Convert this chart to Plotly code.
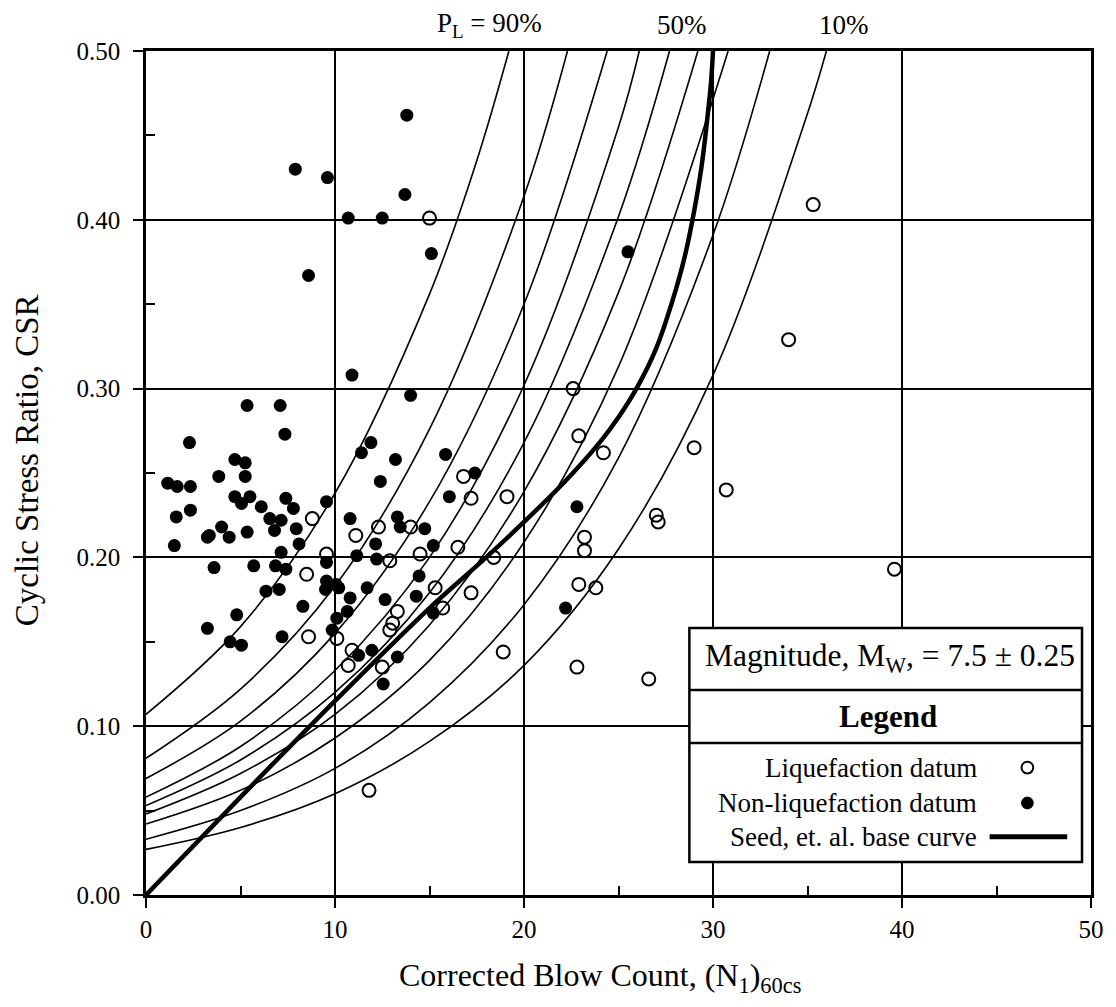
import plotly.graph_objects as go

# ---------------- data ----------------
# Probability curves (P_L) : blow count N and CSR
pl_labels = ["90%", "80%", "70%", "60%", "50%", "40%", "30%", "20%", "10%"]
pl_n = [
    [0, 5, 10, 15, 17.5, 19.2],
    [0, 5, 10, 15, 20, 22.3],
    [0, 5, 10, 15, 20, 24.4],
    [0, 5, 10, 15, 20, 25, 26.1],
    [0, 5, 10, 15, 20, 25, 27.7],
    [0, 5, 10, 15, 20, 25, 29.2],
    [0, 5, 10, 15, 20, 25, 30.8],
    [0, 5, 10, 15, 20, 25, 30, 33.0],
    [0, 5, 10, 15, 20, 25, 30, 35, 36.0],
]
pl_csr = [
    [0.107, 0.159, 0.238, 0.356, 0.435, 0.500],
    [0.081, 0.122, 0.183, 0.276, 0.414, 0.500],
    [0.069, 0.103, 0.155, 0.233, 0.350, 0.500],
    [0.058, 0.088, 0.133, 0.200, 0.302, 0.455, 0.500],
    [0.053, 0.080, 0.120, 0.179, 0.268, 0.402, 0.500],
    [0.048, 0.072, 0.107, 0.160, 0.239, 0.357, 0.500],
    [0.042, 0.062, 0.093, 0.139, 0.209, 0.313, 0.500],
    [0.033, 0.050, 0.075, 0.114, 0.172, 0.259, 0.391, 0.500],
    [0.027, 0.040, 0.060, 0.091, 0.136, 0.205, 0.308, 0.463, 0.500],
]

# Seed et al. base curve
seed_n = [0, 5, 10, 15, 18, 20, 22, 24, 25, 26, 27, 27.8, 28.5, 29.0, 29.4, 29.7,
          29.9, 30.0]
seed_csr = [0, 0.058, 0.115, 0.170, 0.200, 0.221, 0.243, 0.268, 0.283, 0.301,
            0.324, 0.350, 0.378, 0.405, 0.432, 0.460, 0.482, 0.500]

# Liquefaction data (open circles)
liq_n = [15.0, 35.3, 34.0, 22.6, 22.9, 24.2, 29.0, 30.7, 27.0, 27.1, 23.2, 23.2,
         22.9, 23.8, 39.6, 26.6, 22.8, 18.9, 16.8, 17.2, 19.1, 16.5, 18.4, 17.2,
         15.3, 15.7, 14.5, 14.0, 12.3, 11.1, 12.9, 13.3, 13.05, 12.9, 12.5, 10.7,
         10.9, 10.1, 8.6, 8.5, 9.55, 8.8, 11.8]
liq_csr = [0.401, 0.409, 0.329, 0.300, 0.272, 0.262, 0.265, 0.240, 0.225, 0.221,
           0.212, 0.204, 0.184, 0.182, 0.193, 0.128, 0.135, 0.144, 0.248, 0.235,
           0.236, 0.206, 0.200, 0.179, 0.182, 0.170, 0.202, 0.218, 0.218, 0.213,
           0.198, 0.168, 0.161, 0.157, 0.135, 0.136, 0.145, 0.152, 0.153, 0.190,
           0.202, 0.223, 0.062]

# Non-liquefaction data (filled circles)
non_n = [13.8, 7.9, 9.6, 13.7, 10.7, 12.5, 15.1, 8.6, 10.9, 14.0, 5.35, 7.1, 25.5,
         7.35, 2.3, 4.7, 5.25, 3.85, 5.25, 1.15, 1.65, 2.35, 4.7, 5.05, 5.5, 6.1,
         7.4, 7.8, 9.55, 6.55, 7.15, 6.8, 7.95, 8.1, 1.6, 2.35, 3.35, 4.0, 4.4, 3.25,
         5.35, 1.5, 7.15, 3.6, 5.7, 6.85, 7.4, 9.55, 9.55, 10.05, 9.5, 10.2, 6.35,
         7.05, 8.3, 10.8, 10.65, 4.8, 3.25, 4.45, 5.05, 7.2, 10.1, 9.85,
         11.9, 11.4, 13.2, 15.85, 12.4, 17.4, 16.05, 10.8, 13.3, 13.45, 14.75,
         12.15, 15.2, 11.15, 12.2, 14.45, 11.7, 12.65, 14.3, 15.2, 11.95, 11.25,
         13.3, 12.55, 22.8, 22.2]
non_csr = [0.462, 0.430, 0.425, 0.415, 0.401, 0.401, 0.380, 0.367, 0.308, 0.296,
           0.290, 0.290, 0.381,
           0.273, 0.268, 0.258, 0.256, 0.248, 0.248, 0.244, 0.242, 0.242, 0.236,
           0.232, 0.236, 0.230, 0.235, 0.229, 0.233, 0.223, 0.222, 0.216, 0.217,
           0.208, 0.224, 0.228, 0.213, 0.218, 0.212, 0.212, 0.215, 0.207, 0.203,
           0.194, 0.195, 0.195, 0.193, 0.197, 0.186, 0.184, 0.181, 0.182, 0.180,
           0.181, 0.171, 0.176, 0.168, 0.166, 0.158, 0.150, 0.148, 0.153, 0.164,
           0.157,
           0.268, 0.262, 0.258, 0.261, 0.245, 0.250, 0.236, 0.223, 0.224, 0.218,
           0.217, 0.208, 0.207, 0.201, 0.199, 0.189, 0.182, 0.175, 0.177, 0.167,
           0.145, 0.142, 0.141, 0.125, 0.230, 0.170]

x_ticks = [0, 10, 20, 30, 40, 50]
y_ticks = [0.0, 0.1, 0.2, 0.3, 0.4, 0.5]

FONT = "Liberation Serif"

fig = go.Figure()

for lab, n, c in zip(pl_labels, pl_n, pl_csr):
    fig.add_trace(go.Scatter(x=n, y=c, mode="lines", name="P_L " + lab,
                             line=dict(color="black", width=1.6, shape="spline"),
                             showlegend=False, hoverinfo="skip"))

fig.add_trace(go.Scatter(x=seed_n, y=seed_csr, mode="lines", name="Seed",
                         line=dict(color="black", width=4.5, shape="spline",
                                   smoothing=0.8),
                         showlegend=False))

fig.add_trace(go.Scatter(x=liq_n, y=liq_csr, mode="markers", name="Liquefaction",
                         marker=dict(symbol="circle-open", size=13, color="black",
                                     line=dict(width=2, color="black")),
                         showlegend=False))

fig.add_trace(go.Scatter(x=non_n, y=non_csr, mode="markers", name="Non-liquefaction",
                         marker=dict(symbol="circle", size=13, color="black"),
                         showlegend=False))

axis_common = dict(showgrid=True, gridcolor="black", gridwidth=1.6,
                   showline=True, linecolor="black", linewidth=2.5, mirror=True,
                   zeroline=False, ticks="outside", ticklen=10, tickwidth=1.6,
                   tickcolor="black",
                   tickfont=dict(family=FONT, size=25, color="black"))

fig.update_xaxes(range=[0, 50], tickvals=x_ticks, ticktext=[str(v) for v in x_ticks],
                 minor=dict(tickvals=[5, 15, 25, 35, 45], ticks="inside", ticklen=9,
                            tickwidth=1.6, tickcolor="black", showgrid=False),
                 **axis_common)
fig.update_yaxes(range=[0, 0.5], tickvals=y_ticks, tickformat=".2f",
                 ticklabelstandoff=8,
                 minor=dict(tickvals=[0.05, 0.15, 0.25, 0.35, 0.45], ticks="inside",
                            ticklen=9, tickwidth=1.6, tickcolor="black", showgrid=False),
                 **axis_common)

annotations = [
    dict(text="Corrected Blow Count, (N<sub>1</sub>)<sub>60cs</sub>", xref="paper",
         yref="paper", x=0.48, y=-0.098, xanchor="center", yanchor="middle",
         showarrow=False, font=dict(family=FONT, size=32, color="black")),
    dict(text="Cyclic Stress Ratio, CSR", xref="paper", yref="paper", x=-0.126,
         y=0.515, textangle=-90, xanchor="center", yanchor="middle", showarrow=False,
         font=dict(family=FONT, size=33, color="black")),
    dict(text="P<sub>L</sub> = 90%", xref="paper", yref="paper", x=0.363, y=1.031,
         xanchor="center", yanchor="middle", showarrow=False,
         font=dict(family=FONT, size=27, color="black")),
    dict(text="50%", xref="paper", yref="paper", x=0.567, y=1.031,
         xanchor="center", yanchor="middle", showarrow=False,
         font=dict(family=FONT, size=27, color="black")),
    dict(text="10%", xref="paper", yref="paper", x=0.739, y=1.031,
         xanchor="center", yanchor="middle", showarrow=False,
         font=dict(family=FONT, size=27, color="black")),
    dict(text="Magnitude, M<sub>W</sub>, = 7.5 ± 0.25", xref="paper", yref="paper",
         x=0.787, y=0.281, xanchor="center", yanchor="middle", showarrow=False,
         font=dict(family=FONT, size=31.5, color="black")),
    dict(text="<b>Legend</b>", xref="paper", yref="paper", x=0.785, y=0.2115,
         xanchor="center", yanchor="middle", showarrow=False,
         font=dict(family=FONT, size=31, color="black")),
    dict(text="Liquefaction datum", xref="paper", yref="paper", x=0.882, y=0.151,
         xanchor="right", yanchor="middle", showarrow=False,
         font=dict(family=FONT, size=27, color="black")),
    dict(text="Non-liquefaction datum", xref="paper", yref="paper", x=0.882, y=0.109,
         xanchor="right", yanchor="middle", showarrow=False,
         font=dict(family=FONT, size=27, color="black")),
    dict(text="Seed, et. al. base curve", xref="paper", yref="paper", x=0.882, y=0.069,
         xanchor="right", yanchor="middle", showarrow=False,
         font=dict(family=FONT, size=27, color="black")),
]

rx, ry = 0.0062, 0.0070
shapes = [
    dict(type="rect", xref="paper", yref="paper", x0=0.575, x1=0.9905, y0=0.039,
         y1=0.3164, fillcolor="white", line=dict(color="black", width=2.5),
         layer="above"),
    dict(type="line", xref="paper", yref="paper", x0=0.575, x1=0.9905, y0=0.2429,
         y1=0.2429, line=dict(color="black", width=2.5), layer="above"),
    dict(type="line", xref="paper", yref="paper", x0=0.575, x1=0.9905, y0=0.1801,
         y1=0.1801, line=dict(color="black", width=2.5), layer="above"),
    dict(type="circle", xref="paper", yref="paper", x0=0.9327 - rx, x1=0.9327 + rx,
         y0=0.151 - ry, y1=0.151 + ry, line=dict(color="black", width=2),
         fillcolor="white", layer="above"),
    dict(type="circle", xref="paper", yref="paper", x0=0.9327 - rx, x1=0.9327 + rx,
         y0=0.109 - ry, y1=0.109 + ry, line=dict(color="black", width=1),
         fillcolor="black", layer="above"),
    dict(type="line", xref="paper", yref="paper", x0=0.8927, x1=0.9748, y0=0.069,
         y1=0.069, line=dict(color="black", width=5), layer="above"),
]

# the page adds an 8 px body margin, so the figure is sized to fit the window
fig.update_layout(width=1108, height=999,
                  margin=dict(l=138, r=19, t=43, b=112),
                  plot_bgcolor="white", paper_bgcolor="white",
                  font=dict(family=FONT, color="black"),
                  annotations=annotations, shapes=shapes, showlegend=False)

fig.write_html("out.html")
